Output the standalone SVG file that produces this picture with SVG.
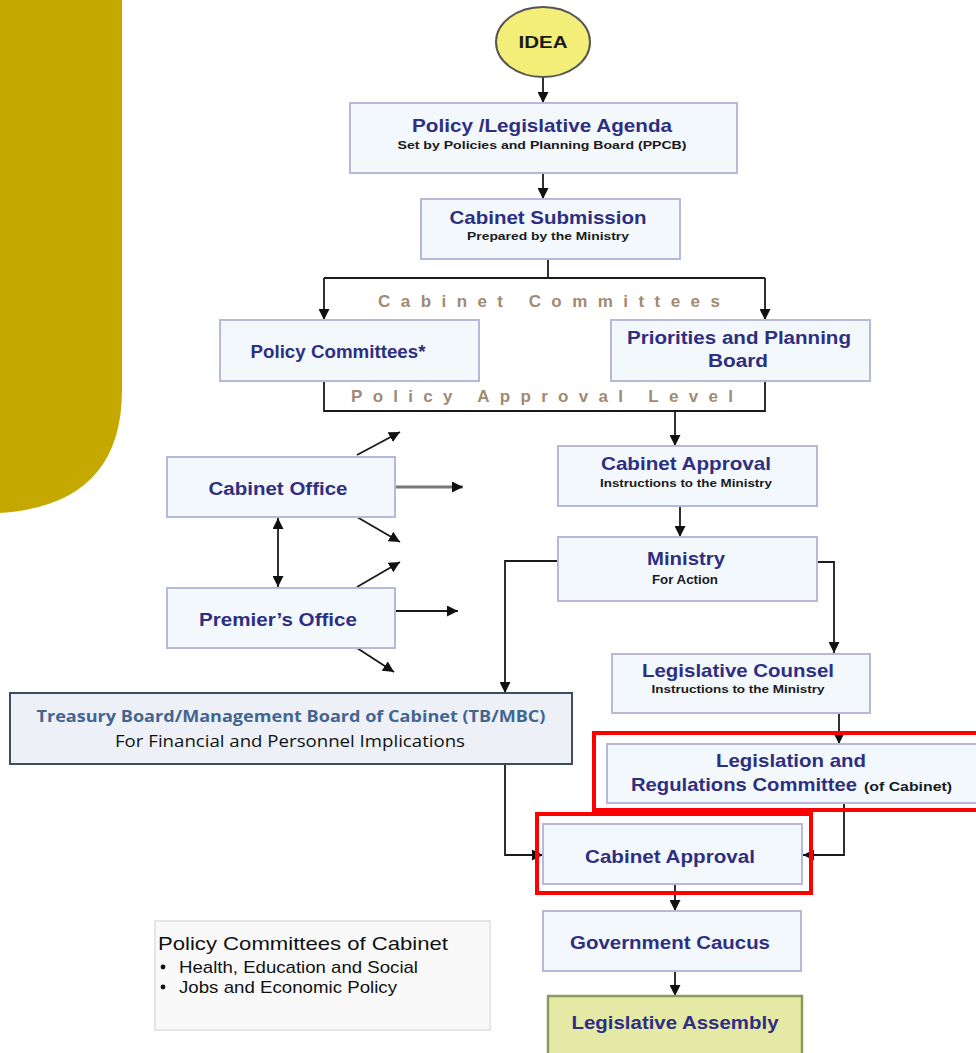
<svg xmlns="http://www.w3.org/2000/svg" width="976" height="1053" viewBox="0 0 976 1053">
<defs>
<marker id="ah" viewBox="0 0 10 10" markerWidth="11" markerHeight="11" markerUnits="userSpaceOnUse" refX="10" refY="5" orient="auto-start-reverse"><path d="M0,0 L10,5 L0,10 z" fill="#111"/></marker>
<style>
.bx{fill:#F3F8FD;stroke:#B8B8DA;stroke-width:2}
.t{font-family:"Liberation Sans",Arial,sans-serif;font-weight:bold;fill:#2E2F80;text-anchor:middle}
.s{font-family:"Liberation Sans",Arial,sans-serif;font-weight:bold;fill:#1a1a1a;text-anchor:middle}
.sp{font-family:"Liberation Sans",Arial,sans-serif;font-weight:bold;fill:#9F8B73}
.c{fill:none;stroke:#1a1a1a;stroke-width:1.8}
.a{marker-end:url(#ah)}
.red{fill:none;stroke:#FF0000;stroke-width:4}
.lg{font-family:"Liberation Sans",Arial,sans-serif;fill:#111}
</style>
</defs>
<rect width="976" height="1053" fill="#fff"/>
<path d="M0,0 H122 V390 Q122 505 0 513 Z" fill="#C5A900"/>

<g id="connectors">
<line class="c a" x1="543" y1="77" x2="543" y2="103"/>
<line class="c a" x1="543" y1="173" x2="543" y2="199"/>
<polyline class="c" points="548,259 548,278"/>
<polyline class="c" points="324,278 765,278"/>
<line class="c a" x1="324" y1="278" x2="324" y2="320"/>
<line class="c a" x1="765" y1="278" x2="765" y2="320"/>
<polyline class="c" points="324,381 324,411 765,411 765,381"/>
<line class="c a" x1="675" y1="411" x2="675" y2="446"/>
<line class="c a" x1="680" y1="506" x2="680" y2="537"/>
<polyline class="c a" points="558,561 505,561 505,693"/>
<polyline class="c a" points="817,562 834,562 834,653"/>
<line class="c a" x1="839" y1="713" x2="839" y2="744"/>
<polyline class="c a" points="844,803 844,855 803,855"/>
<polyline class="c a" points="505,764 505,855 543,855"/>
<line class="c a" x1="675" y1="884" x2="675" y2="911"/>
<line class="c a" x1="675" y1="971" x2="675" y2="996"/>
<line class="c a" x1="357" y1="455" x2="400" y2="432"/>
<line class="a" x1="394" y1="487" x2="463" y2="487" stroke="#777" stroke-width="3"/>
<line class="c a" x1="357" y1="517" x2="400" y2="542"/>
<line class="c a" x1="357" y1="587" x2="400" y2="562"/>
<line class="c a" x1="394" y1="611" x2="458" y2="611"/>
<line class="c a" x1="357" y1="648" x2="394" y2="672"/>
<line class="c a" x1="278" y1="518" x2="278" y2="587" marker-start="url(#ah)"/>
</g>

<g id="idea">
<ellipse cx="543" cy="42" rx="47" ry="35" fill="#F2EE78" stroke="#555" stroke-width="2"/>
<text x="543" y="48" class="s" font-size="17" textLength="49" lengthAdjust="spacingAndGlyphs" fill="#222">IDEA</text>
</g>

<g id="agenda">
<rect class="bx" x="350" y="103" width="387" height="70"/>
<text x="542" y="132" class="t" font-size="19" textLength="260" lengthAdjust="spacingAndGlyphs">Policy /Legislative Agenda</text>
<text x="542" y="149" class="s" font-size="11" textLength="289" lengthAdjust="spacingAndGlyphs">Set by Policies and Planning Board (PPCB)</text>
</g>

<g id="submission">
<rect class="bx" x="421" y="199" width="259" height="60"/>
<text x="548" y="224" class="t" font-size="19" textLength="197" lengthAdjust="spacingAndGlyphs">Cabinet Submission</text>
<text x="548" y="240" class="s" font-size="11" textLength="162" lengthAdjust="spacingAndGlyphs">Prepared by the Ministry</text>
</g>

<text id="cabinet-committees" x="378" y="307" class="sp" font-size="17" textLength="342" lengthAdjust="spacing">Cabinet Committees</text>

<g id="policy-committees">
<rect class="bx" x="220" y="320" width="259" height="61"/>
<text x="338" y="358" class="t" font-size="18" textLength="175" lengthAdjust="spacingAndGlyphs">Policy Committees*</text>
</g>

<g id="priorities">
<rect class="bx" x="611" y="320" width="259" height="61"/>
<text x="739" y="344" class="t" font-size="18" textLength="224" lengthAdjust="spacingAndGlyphs">Priorities and Planning</text>
<text x="738" y="367" class="t" font-size="18" textLength="60" lengthAdjust="spacingAndGlyphs">Board</text>
</g>

<text id="policy-approval-level" x="351" y="402" class="sp" font-size="17" textLength="382" lengthAdjust="spacing">Policy Approval Level</text>

<g id="cabinet-office">
<rect class="bx" x="167" y="457" width="228" height="60"/>
<text x="278" y="495" class="t" font-size="18" textLength="139" lengthAdjust="spacingAndGlyphs">Cabinet Office</text>
</g>

<g id="premiers-office">
<rect class="bx" x="167" y="588" width="228" height="60"/>
<text x="278" y="626" class="t" font-size="18" textLength="158" lengthAdjust="spacingAndGlyphs">Premier’s Office</text>
</g>

<g id="cabinet-approval-1">
<rect class="bx" x="558" y="446" width="259" height="60"/>
<text x="686" y="470" class="t" font-size="19" textLength="170" lengthAdjust="spacingAndGlyphs">Cabinet Approval</text>
<text x="686" y="487" class="s" font-size="11" textLength="172" lengthAdjust="spacingAndGlyphs">Instructions to the Ministry</text>
</g>

<g id="ministry">
<rect class="bx" x="558" y="537" width="259" height="64"/>
<text x="686" y="565" class="t" font-size="19" textLength="78" lengthAdjust="spacingAndGlyphs">Ministry</text>
<text x="685" y="584" class="s" font-size="12" textLength="66" lengthAdjust="spacingAndGlyphs">For Action</text>
</g>

<g id="legislative-counsel">
<rect class="bx" x="612" y="654" width="258" height="59"/>
<text x="738" y="677" class="t" font-size="19" textLength="192" lengthAdjust="spacingAndGlyphs">Legislative Counsel</text>
<text x="738" y="693" class="s" font-size="11" textLength="173" lengthAdjust="spacingAndGlyphs">Instructions to the Ministry</text>
</g>

<g id="treasury">
<rect x="10" y="693" width="562" height="71" fill="#EDF1F7" stroke="#3C4C63" stroke-width="2"/>
<text x="291" y="722" font-family="'Open Sans','Liberation Sans',sans-serif" font-weight="bold" font-size="16" fill="#44658F" text-anchor="middle" textLength="509" lengthAdjust="spacingAndGlyphs">Treasury Board/Management Board of Cabinet (TB/MBC)</text>
<text x="290" y="747" font-family="'Open Sans','Liberation Sans',sans-serif" font-size="16" fill="#111" text-anchor="middle" textLength="350" lengthAdjust="spacingAndGlyphs">For Financial and Personnel Implications</text>
</g>

<g id="legislation-regulations">
<rect class="bx" x="607" y="744" width="375" height="59"/>
<text x="791" y="767" class="t" font-size="19" textLength="150" lengthAdjust="spacingAndGlyphs">Legislation and</text>
<text x="631" y="791" class="t" font-size="19" style="text-anchor:start" textLength="226" lengthAdjust="spacingAndGlyphs">Regulations Committee</text>
<text x="864" y="791" class="s" font-size="12" style="text-anchor:start" textLength="88" lengthAdjust="spacingAndGlyphs">(of Cabinet)</text>
</g>
<rect class="red" x="594" y="733" width="390" height="77"/>

<g id="cabinet-approval-2">
<rect class="bx" x="543" y="824" width="259" height="60"/>
<text x="670" y="863" class="t" font-size="19" textLength="170" lengthAdjust="spacingAndGlyphs">Cabinet Approval</text>
</g>
<rect class="red" x="537" y="814" width="274" height="79"/>

<g id="government-caucus">
<rect class="bx" x="543" y="911" width="258" height="60"/>
<text x="670" y="949" class="t" font-size="18" textLength="200" lengthAdjust="spacingAndGlyphs">Government Caucus</text>
</g>

<g id="legislative-assembly">
<rect x="548" y="996" width="254" height="70" fill="#E4EAA6" stroke="#8C9A5C" stroke-width="2.5"/>
<text x="675" y="1029" class="t" font-size="18" textLength="207" lengthAdjust="spacingAndGlyphs">Legislative Assembly</text>
</g>

<g id="legend">
<rect x="155" y="921" width="335" height="109" fill="#F9F9F9" stroke="#E6E6E6" stroke-width="2"/>
<text x="158" y="950" class="lg" font-size="19" textLength="290" lengthAdjust="spacingAndGlyphs">Policy Committees of Cabinet</text>
<circle cx="163" cy="967" r="2.4" fill="#111"/>
<text x="179" y="973" class="lg" font-size="17" textLength="239" lengthAdjust="spacingAndGlyphs">Health, Education and Social</text>
<circle cx="163" cy="987" r="2.4" fill="#111"/>
<text x="179" y="993" class="lg" font-size="17" textLength="218" lengthAdjust="spacingAndGlyphs">Jobs and Economic Policy</text>
</g>
</svg>
